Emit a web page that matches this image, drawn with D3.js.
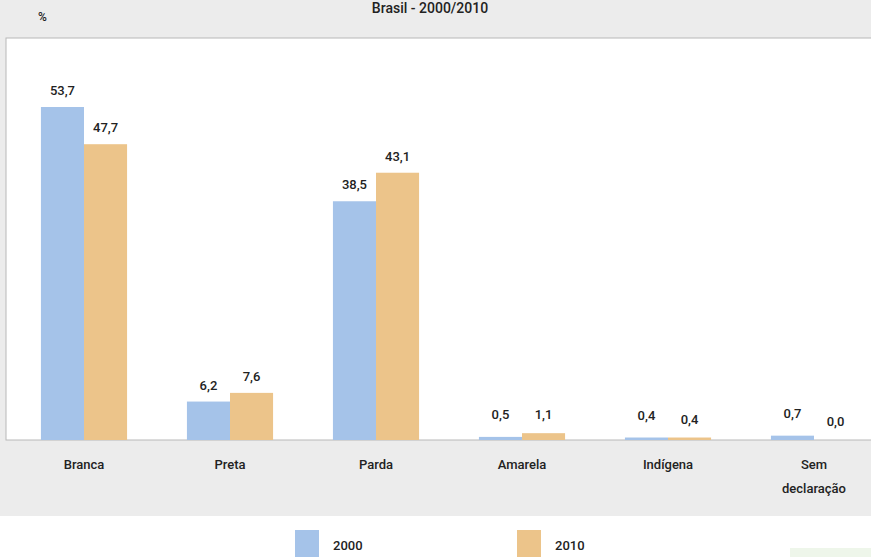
<!DOCTYPE html>
<html><head><meta charset="utf-8">
<script src="https://cdn.jsdelivr.net/npm/d3@7"></script>
<style>
body{margin:0;background:#fff;}
text{font-family:Roboto,"Noto Sans",sans-serif;font-weight:500;fill:#222;}
</style></head>
<body><div id="chart"></div>
<script>
var categories = ['Branca', 'Preta', 'Parda', 'Amarela', 'Indígena', 'Sem declaração'];
var years = ['2000', '2010'];
var values2000 = [53.7, 6.2, 38.5, 0.5, 0.4, 0.7];
var values2010 = [47.7, 7.6, 43.1, 1.1, 0.4, 0.0];
var colors = ['#a5c3e9', '#ecc48a'];

var W = 871, H = 557, baseline = 440;
var svg = d3.select('#chart').append('svg').attr('width', W).attr('height', H);

svg.append('rect').attr('width', W).attr('height', 516).attr('fill', '#ececec');
svg.append('rect').attr('x', 6).attr('y', 38).attr('width', W).attr('height', baseline - 38)
  .attr('fill', '#fff').attr('stroke', '#b8b8b8');

svg.append('text').attr('x', 430).attr('y', 13).attr('text-anchor', 'middle')
  .attr('font-weight', 'bold').attr('font-size', 14).text('Brasil - 2000/2010');
svg.append('text').attr('x', 38).attr('y', 21).attr('font-size', 12).attr('font-weight', 'bold').text('%');

var x = d3.scaleBand().domain(categories).range([11, 887]).paddingInner(0.41).paddingOuter(0.205);
var x1 = d3.scaleBand().domain(years).range([0, x.bandwidth()]);
var y = d3.scaleLinear().domain([0, 53.7]).range([baseline, 107]);

var data = categories.map(function (c, i) { return {cat: c, vals: [values2000[i], values2010[i]]}; });
var g = svg.selectAll('g.cat').data(data).enter().append('g')
  .attr('transform', function (d) { return 'translate(' + x(d.cat) + ',0)'; });

g.selectAll('rect').data(function (d) { return d.vals; }).enter().append('rect')
  .attr('x', function (d, i) { return x1(years[i]); })
  .attr('y', function (d) { return Math.min(y(d), baseline - 2); })
  .attr('width', x1.bandwidth())
  .attr('height', function (d) { return d === 0 ? 0 : Math.max(baseline - y(d), 2); })
  .attr('fill', function (d, i) { return colors[i]; });

g.selectAll('text.val').data(function (d) { return d.vals; }).enter().append('text')
  .attr('class', 'val')
  .attr('x', function (d, i) { return x1(years[i]) + x1.bandwidth() / 2; })
  .attr('y', function (d, i) { return y(d) - (d < 2 ? 18 + (i ? -4 : 0) : 12); })
  .attr('text-anchor', 'middle').attr('font-size', 13)
  .text(function (d) { return d3.format('.1f')(d).replace('.', ','); });

g.each(function (d) {
  var words = d.cat.split(' ');
  var t = d3.select(this).append('text').attr('x', x.bandwidth() / 2).attr('y', 469)
    .attr('text-anchor', 'middle').attr('font-size', 13);
  words.forEach(function (w, i) {
    t.append('tspan').attr('x', x.bandwidth() / 2).attr('dy', i ? 24 : 0).text(w);
  });
});

var legX = [295, 517];
years.forEach(function (yr, i) {
  svg.append('rect').attr('x', legX[i]).attr('y', 530).attr('width', 24).attr('height', 27).attr('fill', colors[i]);
  svg.append('text').attr('x', legX[i] + 38).attr('y', 550).attr('font-size', 13).text(yr);
});
svg.append('rect').attr('x', 790).attr('y', 548).attr('width', 81).attr('height', 9).attr('fill', '#eef6ea');
</script></body></html>
